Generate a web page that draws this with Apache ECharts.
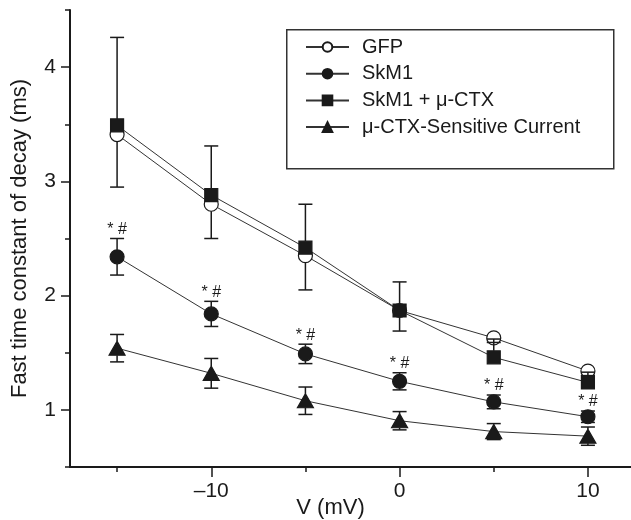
<!DOCTYPE html>
<html>
<head>
<meta charset="utf-8">
<script src="https://cdn.jsdelivr.net/npm/echarts@6/dist/echarts.min.js"></script>
<style>
  html, body { margin: 0; padding: 0; background: #fff; }
  #chart { width: 631px; height: 520px; }
</style>
</head>
<body>
<div id="chart"></div>
<script>
// Membrane potential steps (mV)
const voltage = [-15, -10, -5, 0, 5, 10];

// Fast time constant of decay (ms), mean and SEM per group
const gfpTau   = [3.41, 2.80, 2.35, 1.87, 1.63, 1.34];
const gfpSem   = [0.46, 0.30, 0.30, 0.18, 0.04, 0.04];
const skm1Tau  = [2.34, 1.84, 1.49, 1.25, 1.07, 0.94];
const skm1Sem  = [0.16, 0.11, 0.085, 0.075, 0.06, 0.05];
const ctxTau   = [3.49, 2.88, 2.42, 1.87, 1.46, 1.24];
const ctxSem   = [0.77, 0.43, 0.38, 0.25, 0.16, 0.09];
const sensTau  = [1.54, 1.32, 1.08, 0.905, 0.81, 0.77];
const sensSem  = [0.12, 0.13, 0.12, 0.08, 0.07, 0.08];

// Significance marks shown above the SkM1 points
const skm1Marks = ['* #', '* #', '* #', '* #', '* #', '* #'];

// Axis ticks and labels
const xMajorTicks = [-10, 0, 10];
const xMinorTicks = [-15, -5, 5];
const yMajorTicks = [1, 2, 3, 4];
const yMinorTicks = [0.5, 1.5, 2.5, 3.5, 4.5];

const seriesNames = ['GFP', 'SkM1', 'SkM1 + \u03bc-CTX', '\u03bc-CTX-Sensitive Current'];

const FONT = 'Liberation Sans, Arial, Helvetica, sans-serif';
const INK = '#1a1a1a';

const chart = echarts.init(document.getElementById('chart'), null, { renderer: 'canvas' });

function pairs(ys) {
  return voltage.map((v, i) => [v, ys[i]]);
}

// Error bar rows: [x, mean, down, up, mark]
function barRows(means, sems, down, up, marks) {
  return voltage.map((v, i) => [v, means[i], down ? sems[i] : 0, up ? sems[i] : 0, marks ? marks[i] : '']);
}

function errorBars(name, rows, markerRadius) {
  return {
    type: 'custom',
    name: name,
    z: 5,
    silent: true,
    data: rows,
    renderItem: function (params, api) {
      const x = api.value(0), m = api.value(1);
      const lo = api.value(2), hi = api.value(3);
      const mark = rows[params.dataIndex][4];
      const c = api.coord([x, m]);
      const half = 7;
      const style = { stroke: INK, lineWidth: 1.5 };
      const children = [];
      if (hi > 0) {
        const t = api.coord([x, m + hi]);
        if (c[1] - t[1] > markerRadius) {
          children.push({ type: 'line', shape: { x1: c[0], y1: c[1] - markerRadius, x2: c[0], y2: t[1] }, style: style });
        }
        children.push({ type: 'line', shape: { x1: c[0] - half, y1: t[1], x2: c[0] + half, y2: t[1] }, style: style });
      }
      if (lo > 0) {
        const b = api.coord([x, m - lo]);
        if (b[1] - c[1] > markerRadius) {
          children.push({ type: 'line', shape: { x1: c[0], y1: c[1] + markerRadius, x2: c[0], y2: b[1] }, style: style });
        }
        children.push({ type: 'line', shape: { x1: c[0] - half, y1: b[1], x2: c[0] + half, y2: b[1] }, style: style });
      }
      if (mark) {
        const t = api.coord([x, m + hi]);
        children.push({
          type: 'text',
          style: {
            x: c[0], y: t[1] - 1, text: mark,
            font: '16px ' + FONT, fill: INK,
            align: 'center', verticalAlign: 'bottom'
          }
        });
      }
      return { type: 'group', children: children };
    }
  };
}

function lineSeries(name, ys, symbol, size, fill, z) {
  return {
    type: 'line',
    name: name,
    data: pairs(ys),
    symbol: symbol,
    symbolSize: size,
    showAllSymbol: true,
    z: z,
    lineStyle: { color: '#333', width: 1 },
    itemStyle: { color: fill, borderColor: INK, borderWidth: 1.2, opacity: 1 },
    emphasis: { disabled: true },
    animation: false
  };
}

function sharedAxisText() {
  return { fontFamily: FONT, fontSize: 21, color: INK };
}

const option = {
  backgroundColor: '#fff',
  animation: false,
  grid: { left: 70, top: 10, width: 565, height: 457, containLabel: false, outerBoundsMode: 'none' },
  xAxis: [
    {
      type: 'value', min: -17.5, max: 12.5,
      name: 'V (mV)', nameLocation: 'middle', nameGap: 30, nameMoveOverlap: false,
      nameTextStyle: { fontFamily: FONT, fontSize: 22, color: INK, padding: [0, 44, 0, 0] },
      axisLine: { show: true, onZero: false, lineStyle: { color: INK, width: 2 } },
      axisTick: { show: true, inside: false, length: 10, customValues: xMajorTicks, lineStyle: { color: INK, width: 1.5 } },
      axisLabel: Object.assign({ customValues: xMajorTicks, margin: 14,
        formatter: v => String(v).replace('-', '\u2013') }, sharedAxisText()),
      splitLine: { show: false }
    },
    {
      type: 'value', min: -17.5, max: 12.5, position: 'bottom', offset: 0,
      axisLine: { show: false, onZero: false },
      axisTick: { show: true, inside: false, length: 5, customValues: xMinorTicks, lineStyle: { color: INK, width: 1.5 } },
      axisLabel: { show: false },
      splitLine: { show: false }
    }
  ],
  yAxis: [
    {
      type: 'value', min: 0.5, max: 4.5,
      name: 'Fast time constant of decay (ms)', nameLocation: 'middle', nameGap: 39, nameRotate: 90,
      nameMoveOverlap: false,
      nameTextStyle: { fontFamily: FONT, fontSize: 22, color: INK },
      axisLine: { show: true, onZero: false, lineStyle: { color: INK, width: 2 } },
      axisTick: { show: true, inside: false, length: 9, customValues: yMajorTicks, lineStyle: { color: INK, width: 1.5 } },
      axisLabel: Object.assign({ customValues: yMajorTicks, margin: 14 }, sharedAxisText()),
      splitLine: { show: false }
    },
    {
      type: 'value', min: 0.5, max: 4.5, position: 'left', offset: 0,
      axisLine: { show: false, onZero: false },
      axisTick: { show: true, inside: false, length: 5, customValues: yMinorTicks, lineStyle: { color: INK, width: 1.5 } },
      axisLabel: { show: false },
      splitLine: { show: false }
    }
  ],
  legend: {
    data: seriesNames,
    orient: 'vertical',
    left: 305, top: 37,
    padding: 0,
    itemWidth: 43, itemHeight: 12, itemGap: 6.7,
    selectedMode: false,
    textStyle: { fontFamily: FONT, fontSize: 20, color: INK, lineHeight: 20, padding: [0, 0, 0, 8] }
  },
  graphic: [
    {
      type: 'rect', left: 286, top: 29, z: 0,
      shape: { width: 327, height: 139 },
      style: { fill: '#fff', stroke: '#333', lineWidth: 1.5 }
    }
  ],
  series: [
    errorBars('GFP SEM', barRows(gfpTau, gfpSem, true, false), 7),
    lineSeries(seriesNames[0], gfpTau, 'circle', 14, '#fff', 3),
    errorBars('SkM1 SEM', barRows(skm1Tau, skm1Sem, true, true, skm1Marks), 7),
    lineSeries(seriesNames[1], skm1Tau, 'circle', 14, INK, 6),
    errorBars('CTX SEM', barRows(ctxTau, ctxSem, false, true), 6.5),
    lineSeries(seriesNames[2], ctxTau, 'rect', 13, INK, 6),
    errorBars('Sensitive SEM', barRows(sensTau, sensSem, true, true), 7),
    lineSeries(seriesNames[3], sensTau, 'triangle', [16, 14], INK, 6)
  ]
};

chart.setOption(option);
</script>
</body>
</html>
